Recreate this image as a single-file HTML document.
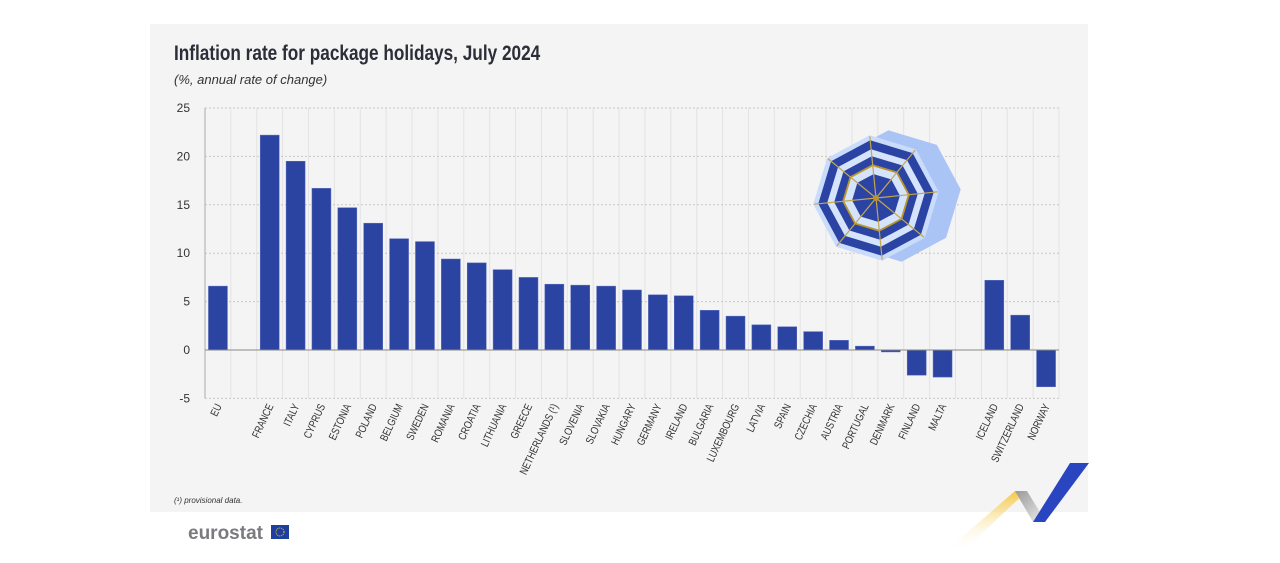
<!DOCTYPE html>
<html><head><meta charset="utf-8"><style>
body{margin:0;background:#fff;width:1280px;height:558px;overflow:hidden;font-family:"Liberation Sans",sans-serif}
</style></head><body>
<svg width="1280" height="558" xmlns="http://www.w3.org/2000/svg">
<rect x="150" y="24" width="938" height="488" fill="#f4f4f4"/>
<text x="174" y="60" font-size="21" font-weight="bold" fill="#2b2e38" transform="translate(174,0) scale(0.82,1) translate(-174,0)">Inflation rate for package holidays, July 2024</text>
<text x="174" y="84" font-size="13" font-style="italic" fill="#333">(%, annual rate of change)</text>
<g id="grid"></g>
<g id="umbrella"></g>
<g id="bars"></g>
<g id="labels"></g>
<text x="174" y="503" font-size="8" font-style="italic" fill="#333">(¹) provisional data.</text>
<text x="188" y="539" font-size="19" font-weight="bold" fill="#7a7a80">eurostat</text>
<rect x="271" y="525" width="18" height="14" fill="#1f3f9e"/>
<circle cx="280" cy="532" r="4" fill="none" stroke="#f5c518" stroke-width="1" stroke-dasharray="1 1"/>
<defs><linearGradient id="yg" x1="0" y1="0" x2="0" y2="1"><stop offset="0" stop-color="#f5c842"/><stop offset="1" stop-color="#fff" stop-opacity="0"/></linearGradient>
<linearGradient id="gg" x1="0" y1="0" x2="1" y2="1"><stop offset="0" stop-color="#999"/><stop offset="1" stop-color="#eee"/></linearGradient></defs>
<polygon points="1015,491 1027,491 962,552 945,552" fill="url(#yg)"/>
<polygon points="1015,491 1027,491 1046,522 1033,522" fill="url(#gg)"/>
<polygon points="1070,463 1089,463 1045,522 1033,522" fill="#2a45c0"/>
</svg>
<script>
const categories=["EU","","FRANCE","ITALY","CYPRUS","ESTONIA","POLAND","BELGIUM","SWEDEN","ROMANIA","CROATIA","LITHUANIA","GREECE","NETHERLANDS (¹)","SLOVENIA","SLOVAKIA","HUNGARY","GERMANY","IRELAND","BULGARIA","LUXEMBOURG","LATVIA","SPAIN","CZECHIA","AUSTRIA","PORTUGAL","DENMARK","FINLAND","MALTA","","ICELAND","SWITZERLAND","NORWAY"];
const values=[6.6,null,22.2,19.5,16.7,14.7,13.1,11.5,11.2,9.4,9.0,8.3,7.5,6.8,6.7,6.6,6.2,5.7,5.6,4.1,3.5,2.6,2.4,1.9,1.0,0.4,-0.2,-2.6,-2.8,null,7.2,3.6,-3.8];
const yTicks=[25,20,15,10,5,0,-5];
const NS="http://www.w3.org/2000/svg";
const L=205,R=1059,slot=(R-L)/categories.length;
const y=v=>350-v*9.68;
const x=i=>L+i*slot;
function mk(t,a,p){const e=document.createElementNS(NS,t);for(const k in a)e.setAttribute(k,a[k]);p.appendChild(e);return e;}
const g=document.getElementById('grid');
for(let i=1;i<=categories.length;i++){const l=mk('line',{x1:x(i),x2:x(i),y1:y(25),y2:y(-5),stroke:'#e3e3e3','stroke-width':1},g);

}
yTicks.forEach(t=>{
 if(t!==0){const l=mk('line',{x1:L,x2:R,y1:y(t),y2:y(t),stroke:'#c8c8c8','stroke-dasharray':'2 2'},g);
 
 }
 const tx=mk('text',{x:190,y:y(t)+4,'font-size':12,fill:'#333','text-anchor':'end'},g);tx.textContent=t;
 
 
});
const ax=mk('line',{x1:L,x2:L,y1:y(25),y2:y(-5),stroke:'#aaa'},g);


const u=document.getElementById('umbrella');
function oct(cx,cy,r,rot){let p=[];for(let k=0;k<8;k++){const a=rot+k*Math.PI/4;p.push((cx+r*Math.cos(a)).toFixed(1)+','+(cy+r*Math.sin(a)).toFixed(1));}return p.join(' ');}
const cx=876,cy=198,rot=-0.1;
mk('polygon',{points:oct(895,196,66,rot),fill:'#a9c4f5'},u);
[[63,'#c9dcfb'],[58,'#2b43a3'],[49,'#d5e3fb'],[42,'#2b43a3'],[34,'#b8962e'],[32,'#d5e3fb'],[24,'#2b43a3']].forEach(([r,c])=>mk('polygon',{points:oct(cx,cy,r,rot),fill:c},u));
for(let k=0;k<8;k++){const a=rot+k*Math.PI/4;mk('line',{x1:cx,y1:cy,x2:cx+62*Math.cos(a),y2:cy+62*Math.sin(a),stroke:'#c2a650','stroke-width':1.2},u);}
mk('circle',{cx:cx,cy:cy,r:3,fill:'#b8962e'},u);
const b=document.getElementById('bars'),lb=document.getElementById('labels');
categories.forEach((c,i)=>{
 const cxx=x(i)+slot/2;
 if(values[i]!==null){const v=values[i];
  const r=mk('rect',{x:cxx-9.5,y:Math.min(y(v),y(0)),width:19,height:Math.abs(y(v)-y(0)),fill:'#2c44a1',stroke:'#5a6cc0','stroke-width':0.5},b);
  
  }
 if(c){const t=mk('text',{x:0,y:0,'font-size':11,fill:'#333','text-anchor':'end',transform:`translate(${cxx+4},${406}) rotate(-65) scale(0.8,1)`},lb);
  t.textContent=c;
  
  }
});
const z=mk('line',{x1:L,x2:R,y1:y(0),y2:y(0),stroke:'#888'},b);


</script>
</body></html>
